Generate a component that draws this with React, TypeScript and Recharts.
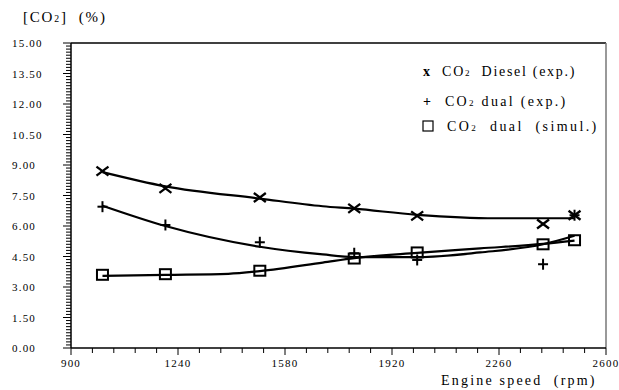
import React from 'react';
import { ComposedChart, Line, Scatter, XAxis, YAxis, ReferenceLine } from 'recharts';

// Measured points
const dieselExp = [
  { rpm: 1000, co2: 8.7 },
  { rpm: 1200, co2: 7.85 },
  { rpm: 1500, co2: 7.4 },
  { rpm: 1800, co2: 6.87 },
  { rpm: 2000, co2: 6.5 },
  { rpm: 2400, co2: 6.1 },
  { rpm: 2500, co2: 6.53 },
];
const dualExp = [
  { rpm: 1000, co2: 6.95 },
  { rpm: 1200, co2: 6.05 },
  { rpm: 1500, co2: 5.2 },
  { rpm: 1800, co2: 4.66 },
  { rpm: 2000, co2: 4.33 },
  { rpm: 2400, co2: 4.12 },
  { rpm: 2500, co2: 6.53 },
];
const dualSim = [
  { rpm: 1000, co2: 3.6 },
  { rpm: 1200, co2: 3.63 },
  { rpm: 1500, co2: 3.8 },
  { rpm: 1800, co2: 4.4 },
  { rpm: 2000, co2: 4.7 },
  { rpm: 2400, co2: 5.1 },
  { rpm: 2500, co2: 5.3 },
];

// Trend curves
const dieselFit = [
  { rpm: 1000, co2: 8.65 },
  { rpm: 1200, co2: 7.95 },
  { rpm: 1500, co2: 7.35 },
  { rpm: 1700, co2: 6.97 },
  { rpm: 1800, co2: 6.85 },
  { rpm: 2000, co2: 6.55 },
  { rpm: 2250, co2: 6.38 },
  { rpm: 2500, co2: 6.38 },
];
const dualExpFit = [
  { rpm: 1000, co2: 7.0 },
  { rpm: 1200, co2: 6.0 },
  { rpm: 1500, co2: 4.98 },
  { rpm: 1700, co2: 4.6 },
  { rpm: 1800, co2: 4.47 },
  { rpm: 2000, co2: 4.47 },
  { rpm: 2200, co2: 4.7 },
  { rpm: 2400, co2: 5.1 },
  { rpm: 2500, co2: 5.52 },
];
const dualSimFit = [
  { rpm: 1000, co2: 3.55 },
  { rpm: 1200, co2: 3.6 },
  { rpm: 1400, co2: 3.65 },
  { rpm: 1500, co2: 3.78 },
  { rpm: 1700, co2: 4.2 },
  { rpm: 1800, co2: 4.42 },
  { rpm: 2000, co2: 4.68 },
  { rpm: 2200, co2: 4.9 },
  { rpm: 2400, co2: 5.12 },
  { rpm: 2500, co2: 5.28 },
];

const xMajorTicks = [900, 1240, 1580, 1920, 2260, 2600];
const xMinorTicks = [
  900, 968, 1036, 1104, 1172, 1240, 1308, 1376, 1444, 1512, 1580, 1648, 1716,
  1784, 1852, 1920, 1988, 2056, 2124, 2192, 2260, 2328, 2396, 2464, 2532, 2600,
];
const yMajorTicks = [0, 1.5, 3, 4.5, 6, 7.5, 9, 10.5, 12, 13.5, 15];
const yMinorTicks = Array.from({ length: 101 }, (_, i) => (i * 15) / 100);

const FONT = '"Liberation Serif", "Times New Roman", serif';

const isYMajor = (v: number) => yMajorTicks.some((m) => Math.abs(m - v) < 1e-6);
const isXMajor = (v: number) => xMajorTicks.some((m) => Math.abs(m - v) < 1e-6);

const YTick = (props: any) => {
  const { x, y, payload } = props;
  const v = payload.value as number;
  const major = isYMajor(v);
  return (
    <g>
      <line x1={x - (major ? 8 : 5)} x2={x} y1={y} y2={y} stroke="#000" strokeWidth={1} />
      {major && (
        <text
          x={x - 59}
          y={y}
          dominantBaseline="central"
          fontSize={11}
          fontFamily={FONT}
          fill="#000"
          style={{ letterSpacing: '1.2px' }}
        >
          {v.toFixed(2)}
        </text>
      )}
    </g>
  );
};

const XTick = (props: any) => {
  const { x, y, payload } = props;
  const v = payload.value as number;
  const major = isXMajor(v);
  return (
    <g>
      <line x1={x} x2={x} y1={y} y2={y + (major ? 7 : 5)} stroke="#000" strokeWidth={1} />
      {major && (
        <text
          x={x}
          y={y + 15}
          textAnchor="middle"
          dominantBaseline="central"
          fontSize={11}
          fontFamily={FONT}
          fill="#000"
          style={{ letterSpacing: '1.2px' }}
        >
          {String(v)}
        </text>
      )}
    </g>
  );
};

const XMark = (p: any) => {
  const { cx, cy } = p;
  return (
    <g stroke="#000" strokeWidth={2.3}>
      <line x1={cx - 6} y1={cy - 4.5} x2={cx + 6} y2={cy + 4.5} />
      <line x1={cx - 6} y1={cy + 4.5} x2={cx + 6} y2={cy - 4.5} />
    </g>
  );
};
const PlusMark = (p: any) => {
  const { cx, cy } = p;
  return (
    <g stroke="#000" strokeWidth={2}>
      <line x1={cx - 5} y1={cy} x2={cx + 5} y2={cy} />
      <line x1={cx} y1={cy - 5.5} x2={cx} y2={cy + 5.5} />
    </g>
  );
};
const SquareMark = (p: any) => {
  const { cx, cy } = p;
  return <rect x={cx - 5.5} y={cy - 5} width={11} height={10} fill="none" stroke="#000" strokeWidth={2} />;
};

const Sub = ({ children }: { children: React.ReactNode }) => (
  <span style={{ fontSize: '0.65em', verticalAlign: '-0.05em' }}>{children}</span>
);

const textBase: React.CSSProperties = {
  position: 'absolute',
  fontFamily: FONT,
  color: '#000',
  whiteSpace: 'pre',
  lineHeight: '16px',
};

export default function App() {
  return (
    <div style={{ position: 'absolute', left: 0, top: 0, width: 619, height: 390, background: '#fff' }}>
      <ComposedChart width={619} height={390} margin={{ top: 43, right: 13, bottom: 0, left: 0 }}>
        <XAxis
          type="number"
          dataKey="rpm"
          domain={[900, 2600]}
          ticks={xMinorTicks}
          interval={0}
          tickLine={false}
          tickSize={0}
          tickMargin={0}
          tick={<XTick />}
          height={42}
          axisLine={{ stroke: '#000', strokeWidth: 1.5 }}
          allowDataOverflow
        />
        <YAxis
          type="number"
          dataKey="co2"
          domain={[0, 15]}
          ticks={yMinorTicks}
          interval={0}
          tickLine={false}
          tickSize={0}
          tickMargin={0}
          tick={<YTick />}
          width={71}
          axisLine={{ stroke: '#000', strokeWidth: 1.5 }}
          allowDataOverflow
        />
        <ReferenceLine y={15} stroke="#000" strokeWidth={1.5} />
        <ReferenceLine x={2600} stroke="#777" strokeWidth={1.5} />
        <Line data={dieselFit} dataKey="co2" type="monotone" stroke="#000" strokeWidth={2.2} dot={false} isAnimationActive={false} />
        <Line data={dualExpFit} dataKey="co2" type="monotone" stroke="#000" strokeWidth={2.2} dot={false} isAnimationActive={false} />
        <Line data={dualSimFit} dataKey="co2" type="monotone" stroke="#000" strokeWidth={2.2} dot={false} isAnimationActive={false} />
        <Scatter data={dieselExp} dataKey="co2" shape={(p: any) => <XMark {...p} />} isAnimationActive={false} />
        <Scatter data={dualExp} dataKey="co2" shape={(p: any) => <PlusMark {...p} />} isAnimationActive={false} />
        <Scatter data={dualSim} dataKey="co2" shape={(p: any) => <SquareMark {...p} />} isAnimationActive={false} />
      </ComposedChart>

      <div style={{ ...textBase, left: 23, top: 9, fontSize: 15, letterSpacing: '1.8px' }}>
        [CO<Sub>2</Sub>]  (%)
      </div>
      <div style={{ ...textBase, left: 441, top: 373, fontSize: 14, letterSpacing: '2.2px' }}>
        Engine speed  (rpm)
      </div>

      {/* Legend */}
      <div style={{ ...textBase, left: 423, top: 64, fontSize: 14, letterSpacing: '1.7px' }}>
        <b>x</b>  CO<Sub>2</Sub>  Diesel (exp.)
      </div>
      <div style={{ ...textBase, left: 423, top: 94, fontSize: 14, letterSpacing: '2.3px' }}>
        <b>+</b>  CO<Sub>2</Sub> dual (exp.)
      </div>
      <div style={{ ...textBase, left: 422, top: 119, fontSize: 14, letterSpacing: '2.4px' }}>
        <svg width={12} height={12} style={{ verticalAlign: '-1px', marginRight: 13 }}>
          <rect x={1} y={1} width={10} height={10} fill="none" stroke="#000" strokeWidth={1.2} />
        </svg>
        CO<Sub>2</Sub>  dual  (simul.)
      </div>
    </div>
  );
}
